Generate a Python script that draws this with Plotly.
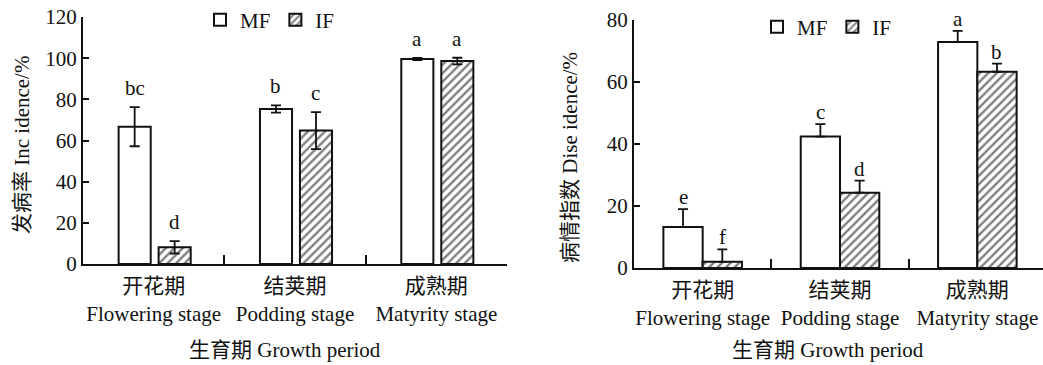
import plotly.graph_objects as go

# ---------------- data ----------------
stages = ["开花期<br>Flowering stage", "结荚期<br>Podding stage", "成熟期<br>Matyrity stage"]
series_names = ["MF", "IF"]

# Left panel: incidence (%)
inc_mf = [66.7, 75.3, 99.6]
inc_mf_err = [9.5, 1.8, 0.5]
inc_if = [8.1, 64.8, 98.6]
inc_if_err = [3.0, 9.0, 1.6]
inc_mf_letters = ["bc", "b", "a"]
inc_if_letters = ["d", "c", "a"]
inc_ticks = [0, 20, 40, 60, 80, 100, 120]

# Right panel: disease index (%)
dis_mf = [13.2, 42.4, 72.9]
dis_mf_err = [5.8, 4.0, 3.6]
dis_if = [2.0, 24.3, 63.3]
dis_if_err = [4.0, 3.9, 2.6]
dis_mf_letters = ["e", "c", "a"]
dis_if_letters = ["f", "d", "b"]
dis_ticks = [0, 20, 40, 60, 80]

# ---------------- style ----------------
W, H = 1043, 365
FONT = "Liberation Serif, 'Times New Roman', 'Noto Sans CJK SC', serif"
FS = 21
BLACK = "#111111"

fig = go.Figure()

# bar geometry (category units)
L_W, L_OFF = 0.227, [-0.248, 0.035]
R_W, R_OFF = 0.286, [-0.286, 0.0]


def add_bars(vals, errs, name, xa, ya, width, offset, hatched, symmetric, legend):
    pattern = dict(shape="/", fgcolor="#000000", bgcolor="white", size=6, solidity=0.4) if hatched else dict(shape="")
    err = dict(type="data", array=errs, visible=True, color=BLACK, thickness=1.8, width=5)
    if not symmetric:
        err["symmetric"] = False
        err["arrayminus"] = [0] * len(errs)
    fig.add_trace(go.Bar(
        x=stages, y=vals, name=name, xaxis=xa, yaxis=ya,
        width=width, offset=offset,
        marker=dict(color="white", line=dict(color=BLACK, width=2), pattern=pattern),
        error_y=err, legend=legend, showlegend=True,
    ))


add_bars(inc_mf, inc_mf_err, series_names[0], "x", "y", L_W, L_OFF[0], False, True, "legend")
add_bars(inc_if, inc_if_err, series_names[1], "x", "y", L_W, L_OFF[1], True, True, "legend")
add_bars(dis_mf, dis_mf_err, series_names[0], "x2", "y2", R_W, R_OFF[0], False, False, "legend2")
add_bars(dis_if, dis_if_err, series_names[1], "x2", "y2", R_W, R_OFF[1], True, False, "legend2")

annotations = []


def add_letters(vals, errs, letters, xa, ya, width, offset, shift):
    for i, (v, e, t) in enumerate(zip(vals, errs, letters)):
        annotations.append(dict(
            x=i + offset + width / 2, y=v + e, xref=xa, yref=ya, text=t,
            showarrow=False, xanchor="center", yanchor="bottom", yshift=shift,
            font=dict(family=FONT, size=FS, color=BLACK),
        ))


add_letters(inc_mf, inc_mf_err, inc_mf_letters, "x", "y", L_W, L_OFF[0], 5)
add_letters(inc_if, inc_if_err, inc_if_letters, "x", "y", L_W, L_OFF[1], 5)
add_letters(dis_mf, dis_mf_err, dis_mf_letters, "x2", "y2", R_W, R_OFF[0], -2)
add_letters(dis_if, dis_if_err, dis_if_letters, "x2", "y2", R_W, R_OFF[1], -2)


def title_ann(text, px, py, angle=0):
    return dict(text=text, x=px / W, y=1 - py / H, xref="paper", yref="paper",
                xanchor="center", yanchor="middle", textangle=angle, showarrow=False,
                font=dict(family=FONT, size=FS, color=BLACK))


annotations += [
    title_ann("发病率 Inc idence/%", 22, 145, -90),
    title_ann("病情指数 Dise idence/%", 570, 158, -90),
    title_ann("生育期 Growth period", 285, 350),
    title_ann("生育期 Growth period", 828, 350),
]

xcommon = dict(type="category", tickson="boundaries", ticks="inside", ticklen=9, tickwidth=2,
               tickcolor=BLACK, showline=True, linecolor=BLACK, linewidth=2, showgrid=False,
               zeroline=False, tickangle=0, automargin=False, ticklabelstandoff=2,
               tickfont=dict(family=FONT, size=FS, color=BLACK), fixedrange=True)
ycommon = dict(ticks="inside", ticklen=6, tickwidth=2, tickcolor=BLACK, showline=True,
               linecolor=BLACK, linewidth=2, showgrid=False, zeroline=False, automargin=False,
               tickfont=dict(family=FONT, size=FS, color=BLACK), fixedrange=True)

legend_common = dict(orientation="h", bgcolor="rgba(0,0,0,0)", font=dict(family=FONT, size=FS, color=BLACK),
                     xanchor="left", yanchor="middle", itemwidth=30, traceorder="normal")

fig.update_layout(
    width=W, height=H, margin=dict(l=0, r=0, t=0, b=0, autoexpand=False),
    paper_bgcolor="white", plot_bgcolor="white",
    barmode="overlay",
    xaxis=dict(xcommon, domain=[83 / W, 507 / W], range=[-0.5, 2.5], anchor="y"),
    yaxis=dict(ycommon, domain=[1 - 264 / H, 1 - 17 / H], range=[0, 120], tickvals=inc_ticks, anchor="x"),
    xaxis2=dict(xcommon, domain=[634 / W, 1.0], range=[-0.5, 2.478], anchor="y2"),
    yaxis2=dict(ycommon, domain=[1 - 268 / H, 1 - 20 / H], range=[0, 80], tickvals=dis_ticks, anchor="x2"),
    legend=dict(legend_common, x=200 / W, y=1 - 20 / H),
    legend2=dict(legend_common, x=757 / W, y=1 - 27 / H),
    annotations=annotations,
    showlegend=True,
)

fig.write_html("out.html", config={"displayModeBar": False},
               post_script="document.body.style.margin='0px';document.body.style.overflow='hidden';")
